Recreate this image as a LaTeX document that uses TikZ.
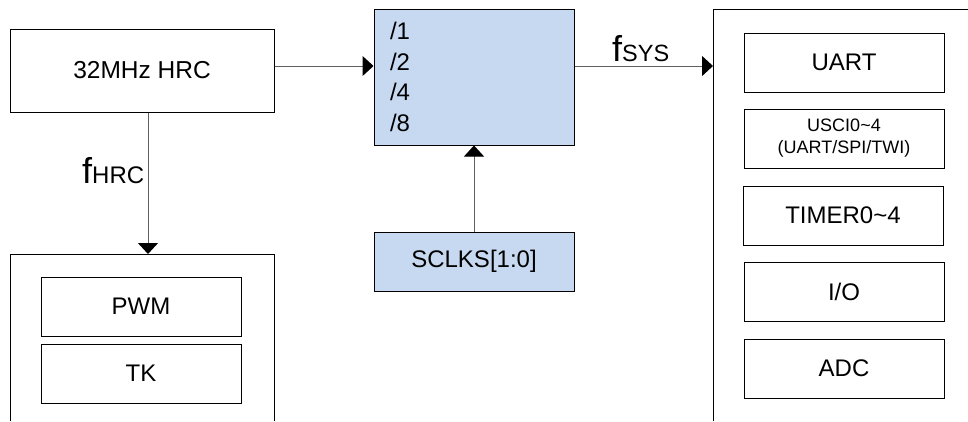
\documentclass[tikz,border=0pt]{standalone}
\usepackage{fontspec}
\setmainfont{Liberation Sans}
\usetikzlibrary{arrows.meta}
\definecolor{divblue}{HTML}{C6D9F0}
\definecolor{conn}{HTML}{606060}
\begin{document}
\begin{tikzpicture}[x=1pt,y=-1pt,
  box/.style={draw=black,line width=1pt,minimum width=200pt,minimum height=59pt,inner sep=0pt,font=\fontsize{24}{28}\selectfont},
  bigbox/.style={box,minimum width=264pt,minimum height=83pt},
  bluebox/.style={box,fill=divblue},
  frame/.style={draw=black,line width=1pt},
  conn/.style={draw=conn,line width=1pt,-{Triangle[length=11pt,width=20pt,fill=black,color=black]}}
]
\useasboundingbox (0,0) rectangle (968,421);
% nodes
\node[bigbox,font=\fontsize{24.5}{28}\selectfont] (hrc) at (142,70.5) {32MHz HRC};
\node[bluebox,minimum height=136pt,text width=168pt,inner xsep=16pt,align=left,
  font=\fontsize{24}{30.5}\selectfont] (div) at (474,77) {/1\\/2\\/4\\/8};
\node[bluebox] (sclks) at (474,261.5) {SCLKS[1:0]};
% right frame
\draw[frame] (968,9) -- (713,9) -- (713,421);
\coordinate (sysin) at (713,66);
\node[box] (uart) at (844,62.5) {UART};
\node[box,font=\fontsize{18}{22}\selectfont,align=center] (usci) at (844,138.5) {USCI0\textasciitilde4\\(UART/SPI/TWI)};
\node[box] (timer) at (843,215.5) {TIMER0\textasciitilde4};
\node[box] (io) at (844,292) {I/O};
\node[box] (adc) at (844,368.5) {ADC};
% left bottom frame
\draw[frame] (10,421) -- (10,254) -- (274,254) -- (274,421);
\coordinate (hrcin) at (148,254);
\node[box] (pwm) at (141,306.5) {PWM};
\node[box] (tk) at (141,373.5) {TK};
% connectors
\draw[conn] (hrc.east |- sysin) -- (div.west |- sysin);
\draw[conn] (div.east |- sysin) -- (sysin);
\draw[conn] (hrc.south -| hrcin) -- (hrcin);
\draw[conn] (sclks.north) -- (div.south);
% labels
\node[anchor=base west,inner sep=0pt] (fsys) at (612,61) {\fontsize{36}{36}\selectfont f\fontsize{23.5}{24}\selectfont SYS};
\node[anchor=base west,inner sep=0pt] (fhrc) at (82,183) {\fontsize{36}{36}\selectfont f\fontsize{24}{24}\selectfont HRC};
\end{tikzpicture}
\end{document}
